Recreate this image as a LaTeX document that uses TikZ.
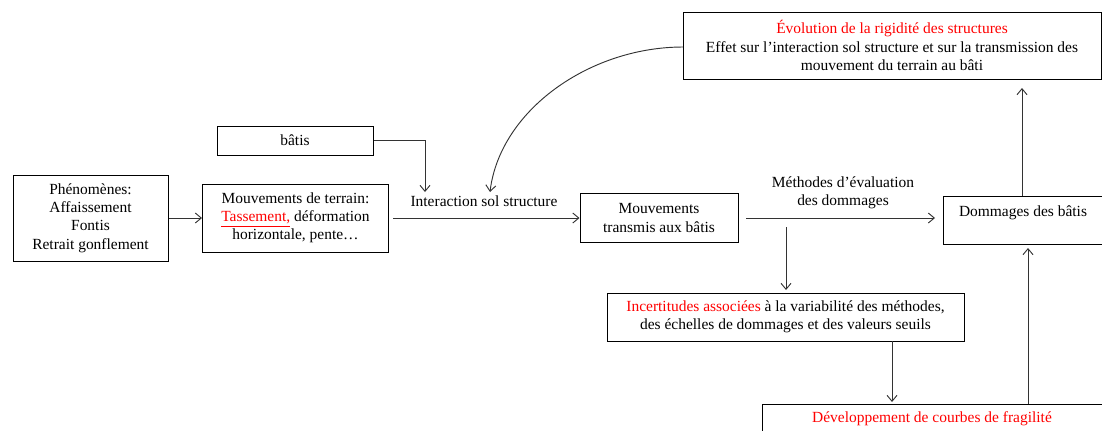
\documentclass[tikz,border=0pt]{standalone}
\usepackage{fontspec}
\setmainfont{Liberation Serif}
\usetikzlibrary{arrows.meta}
\definecolor{linegray}{HTML}{333333}
\definecolor{txtred}{HTML}{FF0000}
\newcommand{\redul}[1]{\textcolor{txtred}{\underline{\textcolor{txtred}{#1}}}}
\begin{document}
\begin{tikzpicture}[x=0.75pt,y=-0.75pt,
  every node/.style={font=\fontsize{11.6}{13.7}\selectfont, text=black},
  box/.style={draw=black, line width=0.75pt, inner sep=0pt, align=center},
  arr/.style={draw=linegray, line width=0.7pt, -{Straight Barb[length=4.5pt,width=7.5pt]}},
  lbl/.style={inner sep=0pt, align=center}]
\useasboundingbox (0,0) rectangle (1102,430);
\begin{scope}
\clip (0,0) rectangle (1102,430);
% boxes
\node[box, minimum width=116.25pt, minimum height=64.5pt] (phen) at (90.5,218)
  {Phénomènes:\\Affaissement\\Fontis\\Retrait gonflement};
\node[box, minimum width=139.5pt, minimum height=51pt] (mvt) at (295.5,218)
  {Mouvements de terrain:\\{\color{txtred}\underline{Tassement,}} déformation\\horizontale, pente…};
\node[box, minimum width=117pt, minimum height=21.75pt] (batis) at (295,140.5) {bâtis};
\node[box, minimum width=118.5pt, minimum height=36.75pt] (trans) at (659,218)
  {Mouvements\\transmis aux bâtis};
\node[box, minimum width=120pt, minimum height=36pt] (dom) at (1023,220)
  {Dommages des bâtis\\\mbox{}};
\node[box, minimum width=313.5pt, minimum height=50.25pt] (evol) at (892,45.5)
  {\textcolor{txtred}{Évolution de la rigidité des structures}\\Effet sur l’interaction sol structure et sur la transmission des\\mouvement du terrain au bâti};
\node[box, minimum width=267.75pt, minimum height=36pt] (inc) at (785.5,317)
  {\textcolor{txtred}{Incertitudes associées} à la variabilité des méthodes,\\des échelles de dommages et des valeurs seuils};
\node[box, minimum width=258.75pt, minimum height=45pt] (dev) at (934.5,434) {};
\node[lbl] (devt) at (932,419) {\textcolor{txtred}{Développement de courbes de fragilité}};
% labels
\node[lbl] (inter) at (484,201) {Interaction sol structure};
\node[lbl] (meth) at (843,193) {Méthodes d’évaluation\\des dommages};
% coordinates
\coordinate (b1) at (425,140.5);
\coordinate (b2) at (425,192);
\coordinate (c1) at (490,192);
\coordinate (m1) at (746,218);
\coordinate (m2) at (935,218);
\coordinate (v1) at (786,227);
\coordinate (v2) at (786,290);
\coordinate (i1) at (892,341);
\coordinate (i2) at (892,402);
\coordinate (d1) at (1028,404);
\coordinate (d2) at (1028,248);
\coordinate (e1) at (1022,196);
\coordinate (e2) at (1022,88);
\coordinate (ce) at (683,47);
% connectors
\draw[arr] (phen.east) -- (mvt.west);
\draw[arr, shorten <=3pt] (mvt.east) -- (trans.west);
\draw[arr] (batis.east) -- (b1) -- (b2);
\draw[arr] (ce) .. controls (590,47) and (500,110) .. (c1);
\draw[arr] (m1) -- (m2);
\draw[arr] (v1) -- (v2);
\draw[arr] (i1) -- (i2);
\draw[arr] (d1) -- (d2);
\draw[arr] (e1) -- (e2);
\end{scope}
\end{tikzpicture}
\end{document}
